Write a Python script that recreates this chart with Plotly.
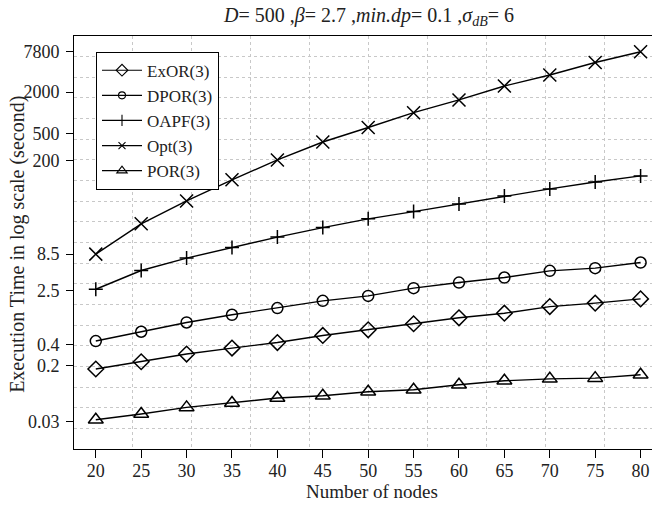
import plotly.graph_objects as go

nodes = [20, 25, 30, 35, 40, 45, 50, 55, 60, 65, 70, 75, 80]
exor = [0.177, 0.226, 0.293, 0.358, 0.432, 0.548, 0.664, 0.813, 0.995, 1.16, 1.45, 1.63, 1.88]
dpor = [0.454, 0.621, 0.849, 1.10, 1.38, 1.76, 2.08, 2.70, 3.26, 3.86, 4.84, 5.30, 6.40]
oapf = [2.6, 4.89, 7.43, 10.6, 15.1, 20.8, 27.9, 35.6, 46.2, 60.5, 76.6, 96.8, 118.6]
opt = [8.5, 23.6, 51, 104, 203, 372, 607, 1000, 1535, 2455, 3560, 5420, 7800]
por = [0.032, 0.0388, 0.0485, 0.0562, 0.0665, 0.0719, 0.0822, 0.0881, 0.104, 0.119, 0.127, 0.130, 0.146]

y_tick_vals = [7800, 2000, 500, 200, 8.5, 2.5, 0.4, 0.2, 0.03]
y_tick_text = ["7800", "2000", "500", "200", "8.5", "2.5", "0.4", "0.2", "0.03"]
x_tick_vals = nodes

series = [
    ("ExOR(3)", exor, "diamond-open", 12, 9),
    ("DPOR(3)", dpor, "circle-open", 11, 7),
    ("OAPF(3)", oapf, "cross-thin-open", 10, 8),
    ("Opt(3)", opt, "x-thin-open", 13, 7),
    ("POR(3)", por, "triangle-up-open", 13, 9),
]

FONT = "Liberation Serif"
TXT = "#222"
fig = go.Figure()

for name, vals, sym, size, lsize in series:
    fig.add_trace(go.Scatter(
        x=nodes, y=vals, mode="lines+markers", name=name, showlegend=False,
        line=dict(color="black", width=1.4),
        marker=dict(symbol=sym, size=size, color="black",
                    line=dict(color="black", width=1.5)),
    ))
for name, vals, sym, size, lsize in series:
    fig.add_trace(go.Scatter(
        x=[None], y=[None], mode="lines+markers", name=name, showlegend=True,
        line=dict(color="black", width=1.2),
        marker=dict(symbol=sym, size=lsize, color="black",
                    line=dict(color="black", width=1.1)),
    ))

# invisible trace to hold the grid overlay axes
fig.add_trace(go.Scatter(x=[None], y=[None], xaxis="x2", yaxis="y2",
                         showlegend=False, hoverinfo="skip"))

fig.update_layout(
    width=652, height=516,
    margin=dict(l=74, r=0, t=36, b=67),
    paper_bgcolor="white", plot_bgcolor="white",
    font=dict(family=FONT, size=18, color=TXT),
    title=dict(
        text="<i>D</i>= 500 ,<i>β</i>= 2.7 ,<i>min.dp</i>= 0.1 ,<i>σ</i><sub><i>dB</i></sub>= 6",
        x=369 / 652, xanchor="center", y=1 - 15 / 516, yanchor="middle",
        font=dict(family=FONT, size=20, color=TXT),
    ),
    xaxis=dict(
        range=[17.6, 17.6 + 578 / 9.08],
        tickvals=x_tick_vals, ticks="outside", ticklen=8, tickwidth=1,
        tickcolor="black", showgrid=False, zeroline=False,
        showline=True, linecolor="black", linewidth=1, mirror=True,
        ticklabelstandoff=-3, tickfont=dict(size=18),
    ),
    yaxis=dict(
        type="log", range=[-1.923, 4.122],
        tickvals=y_tick_vals, ticktext=y_tick_text,
        ticks="outside", ticklen=7, tickwidth=1, tickcolor="black",
        showgrid=False, zeroline=False,
        showline=True, linecolor="black", linewidth=1,
        ticklabelstandoff=3, tickfont=dict(size=18),
    ),
    xaxis2=dict(
        overlaying="x", range=[0, 578 / 589], dtick=0.1, tick0=0,
        showticklabels=False, ticks="", showgrid=True, gridcolor="#c8c8c8",
        griddash="dot", gridwidth=1, zeroline=False, showline=False,
    ),
    yaxis2=dict(
        overlaying="y", range=[0, 1], dtick=0.05, tick0=0,
        showticklabels=False, ticks="", showgrid=True, gridcolor="#c8c8c8",
        griddash="dot", gridwidth=1, zeroline=False, showline=False,
    ),
    legend=dict(
        x=(96 - 74) / 578, y=(449.3 - 51.7) / 413.3, xanchor="left", yanchor="top",
        bgcolor="white", bordercolor="black", borderwidth=1,
        font=dict(family=FONT, size=17, color=TXT),
        tracegroupgap=0, itemwidth=40,
    ),
    annotations=[
        dict(text="Number of nodes", xref="paper", yref="paper",
             x=(372 - 74) / 578, y=-(492 - 449.3) / 413.3,
             xanchor="center", yanchor="middle", showarrow=False,
             font=dict(family=FONT, size=19, color=TXT)),
        dict(text="Execution Time in log scale (second)", xref="paper", yref="paper",
             x=-(74 - 18) / 578, y=(449.3 - 245) / 413.3, textangle=-90,
             xanchor="center", yanchor="middle", showarrow=False,
             font=dict(family=FONT, size=20, color=TXT)),
    ],
)

fig.write_html("out.html")
